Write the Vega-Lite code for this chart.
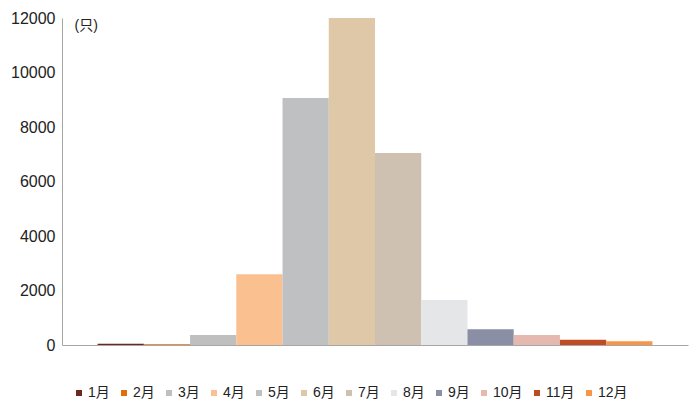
{
  "$schema": "https://vega.github.io/schema/vega-lite/v6.json",
  "width": 626,
  "height": 327,
  "autosize": "none",
  "padding": {"left": 62, "top": 18, "right": 12, "bottom": 72},
  "background": "white",
  "config": {
    "view": {"stroke": null},
    "font": "Liberation Sans, Noto Sans CJK SC"
  },
  "data": {
    "values": [
      {"month": "1月", "count": 50},
      {"month": "2月", "count": 30},
      {"month": "3月", "count": 370},
      {"month": "4月", "count": 2600},
      {"month": "5月", "count": 9060},
      {"month": "6月", "count": 12000},
      {"month": "7月", "count": 7050},
      {"month": "8月", "count": 1650},
      {"month": "9月", "count": 575},
      {"month": "10月", "count": 370},
      {"month": "11月", "count": 195},
      {"month": "12月", "count": 135}
    ]
  },
  "mark": {"type": "bar"},
  "encoding": {
    "x": {
      "field": "month",
      "type": "nominal",
      "sort": null,
      "scale": {"paddingInner": 0, "paddingOuter": 0.77},
      "axis": {"labels": false, "ticks": false, "title": null, "domainColor": "#a6a6a6", "domainWidth": 1}
    },
    "y": {
      "field": "count",
      "type": "quantitative",
      "scale": {"domain": [0, 12000], "nice": false},
      "axis": {
        "values": [0, 2000, 4000, 6000, 8000, 10000, 12000],
        "format": "d",
        "grid": false,
        "ticks": false,
        "domainColor": "#a6a6a6",
        "labelFontSize": 16,
        "labelColor": "#222222",
        "labelPadding": 7,
        "labelFont": "Liberation Sans",
        "title": "(只)",
        "titleAngle": 0,
        "titleX": 12,
        "titleY": 14,
        "titleAlign": "left",
        "titleFontSize": 14,
        "titleFontWeight": "normal",
        "titleColor": "#222222",
        "titleFont": "Liberation Sans, Noto Sans CJK SC"
      }
    },
    "color": {
      "field": "month",
      "type": "nominal",
      "sort": null,
      "scale": {
        "domain": ["1月", "2月", "3月", "4月", "5月", "6月", "7月", "8月", "9月", "10月", "11月", "12月"],
        "range": ["#6b2722", "#e46c0a", "#bfbfbf", "#fac090", "#bfc0c2", "#dfc8a8", "#cfc1b2", "#e5e6e8", "#8a8fa5", "#e6b9b0", "#be4b23", "#f79646"]
      },
      "legend": {
        "title": null,
        "orient": "none",
        "direction": "horizontal",
        "legendX": 10,
        "legendY": 368,
        "symbolType": "square",
        "symbolSize": 36,
        "symbolStrokeWidth": 0,
        "labelFontSize": 14,
        "labelColor": "#222222",
        "labelOffset": 2,
        "columnPadding": 7,
        "labelFont": "Liberation Sans, Noto Sans CJK SC"
      }
    }
  }
}
